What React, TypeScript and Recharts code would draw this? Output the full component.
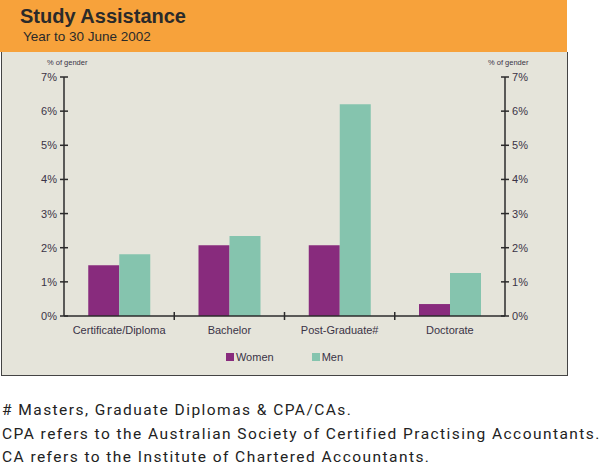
import { BarChart, Bar, XAxis, YAxis, Legend } from 'recharts';

const categories = ['Certificate/Diploma', 'Bachelor', 'Post-Graduate#', 'Doctorate'];
const seriesNames = ['Women', 'Men'];
const women = [1.49, 2.07, 2.07, 0.35];
const men = [1.81, 2.34, 6.2, 1.26];
const yTicks = [0, 1, 2, 3, 4, 5, 6, 7];
const footnotes = [
  '# Masters, Graduate Diplomas & CPA/CAs.',
  'CPA refers to the Australian Society of Certified Practising Accountants.',
  'CA refers to the Institute of Chartered Accountants.',
];

const data = categories.map((name, i) => ({ name, women: women[i], men: men[i] }));

const CHART_W = 565;
const CHART_H = 323;
const MARGIN = { top: 25, right: 22, left: 22, bottom: 2 };
const AXIS_W = 40;
const band = (CHART_W - MARGIN.left - MARGIN.right - AXIS_W * 2) / categories.length;

const ink = '#2b2b2b';
const labelFont = '"Liberation Sans", Arial, sans-serif';

const LeftTick = ({ x, y, payload }: any) => (
  <g>
    <line x1={x + 4} x2={x + 12} y1={y} y2={y} stroke={ink} strokeWidth={1.5} />
    <text x={x + 1} y={y} dy={4} textAnchor="end" fontSize={11} fill="#3a3346" fontFamily={labelFont}>
      {payload.value}%
    </text>
  </g>
);

const RightTick = ({ x, y, payload }: any) => (
  <g>
    <line x1={x - 12} x2={x - 4} y1={y} y2={y} stroke={ink} strokeWidth={1.5} />
    <text x={x - 1} y={y} dy={4} textAnchor="start" fontSize={11} fill="#3a3346" fontFamily={labelFont}>
      {payload.value}%
    </text>
  </g>
);

// x-axis tick marks sit between categories, crossing the axis line
const CatTick = ({ x, y, payload, index }: any) => (
  <g>
    {index > 0 && (
      <line x1={x - band / 2} x2={x - band / 2} y1={y - 12} y2={y - 4} stroke={ink} strokeWidth={1.5} />
    )}
    <text x={x} y={y + 10} textAnchor="middle" fontSize={11} fill="#3a3346" fontFamily={labelFont}>
      {payload.value}
    </text>
  </g>
);

const LegendContent = ({ payload }: any) => {
  const items = [...(payload || [])].sort(
    (a: any, b: any) => seriesNames.indexOf(a.value) - seriesNames.indexOf(b.value)
  );
  return (
    <div style={{ display: 'flex', justifyContent: 'center', gap: 38, fontFamily: labelFont, fontSize: 11, color: '#3a3346', paddingTop: 7 }}>
      {items.map((p: any) => (
        <div key={p.value} style={{ display: 'flex', alignItems: 'center', gap: 2 }}>
          <span style={{ display: 'inline-block', width: 8, height: 8, background: p.color }} />
          <span>{p.value}</span>
        </div>
      ))}
    </div>
  );
};

export default function App() {
  return (
    <div style={{ position: 'absolute', left: 0, top: 0, width: 600, height: 465, background: '#fff', overflow: 'hidden' }}>
      <div style={{ position: 'absolute', left: 0, top: 0, width: 567, height: 52, background: '#F7A23B' }}>
        <div style={{ position: 'absolute', left: 20, top: 5, fontFamily: labelFont, fontWeight: 'bold', fontSize: 20, color: '#2a2a2a' }}>
          Study Assistance
        </div>
        <div style={{ position: 'absolute', left: 23, top: 29, fontFamily: labelFont, fontSize: 13.5, color: '#2a2a2a' }}>
          Year to 30 June 2002
        </div>
      </div>
      <div
        style={{
          position: 'absolute', left: 1, top: 52, width: CHART_W, height: CHART_H,
          background: '#E5E4DA', borderLeft: '1.5px solid #444', borderRight: '1.5px solid #444', borderBottom: '1.5px solid #444',
        }}
      >
        <div style={{ position: 'absolute', left: 45, top: 6, fontFamily: labelFont, fontSize: 7.5, color: '#3a3346' }}>% of gender</div>
        <div style={{ position: 'absolute', left: 486, top: 6, fontFamily: labelFont, fontSize: 7.5, color: '#3a3346' }}>% of gender</div>
        <BarChart width={CHART_W} height={CHART_H} data={data} margin={MARGIN} barCategoryGap="22%" barGap={0}>
          <XAxis
            dataKey="name" stroke={ink} strokeWidth={1.5} tickLine={false} tickSize={4} tickMargin={4}
            tick={<CatTick />} interval={0} height={28}
          />
          <YAxis
            yAxisId="left" orientation="left" width={AXIS_W} domain={[0, 7]} ticks={yTicks}
            stroke={ink} strokeWidth={1.5} tickLine={false} tickSize={4} tickMargin={4} tick={<LeftTick />}
          />
          <YAxis
            yAxisId="right" orientation="right" width={AXIS_W} domain={[0, 7]} ticks={yTicks}
            stroke={ink} strokeWidth={1.5} tickLine={false} tickSize={4} tickMargin={4} tick={<RightTick />}
          />
          <Legend verticalAlign="bottom" height={29} content={<LegendContent />} />
          <Bar yAxisId="left" dataKey="women" name="Women" fill="#882B7D" isAnimationActive={false} />
          <Bar yAxisId="right" dataKey="men" name="Men" fill="#85C4AE" isAnimationActive={false} />
        </BarChart>
      </div>
      <div
        style={{
          position: 'absolute', left: 2, top: 399, fontFamily: 'Roboto, sans-serif', fontSize: 15.5,
          letterSpacing: 1.45, color: '#222', lineHeight: '23.5px', whiteSpace: 'nowrap',
        }}
      >
        {footnotes.map((t) => (
          <div key={t}>{t}</div>
        ))}
      </div>
    </div>
  );
}
